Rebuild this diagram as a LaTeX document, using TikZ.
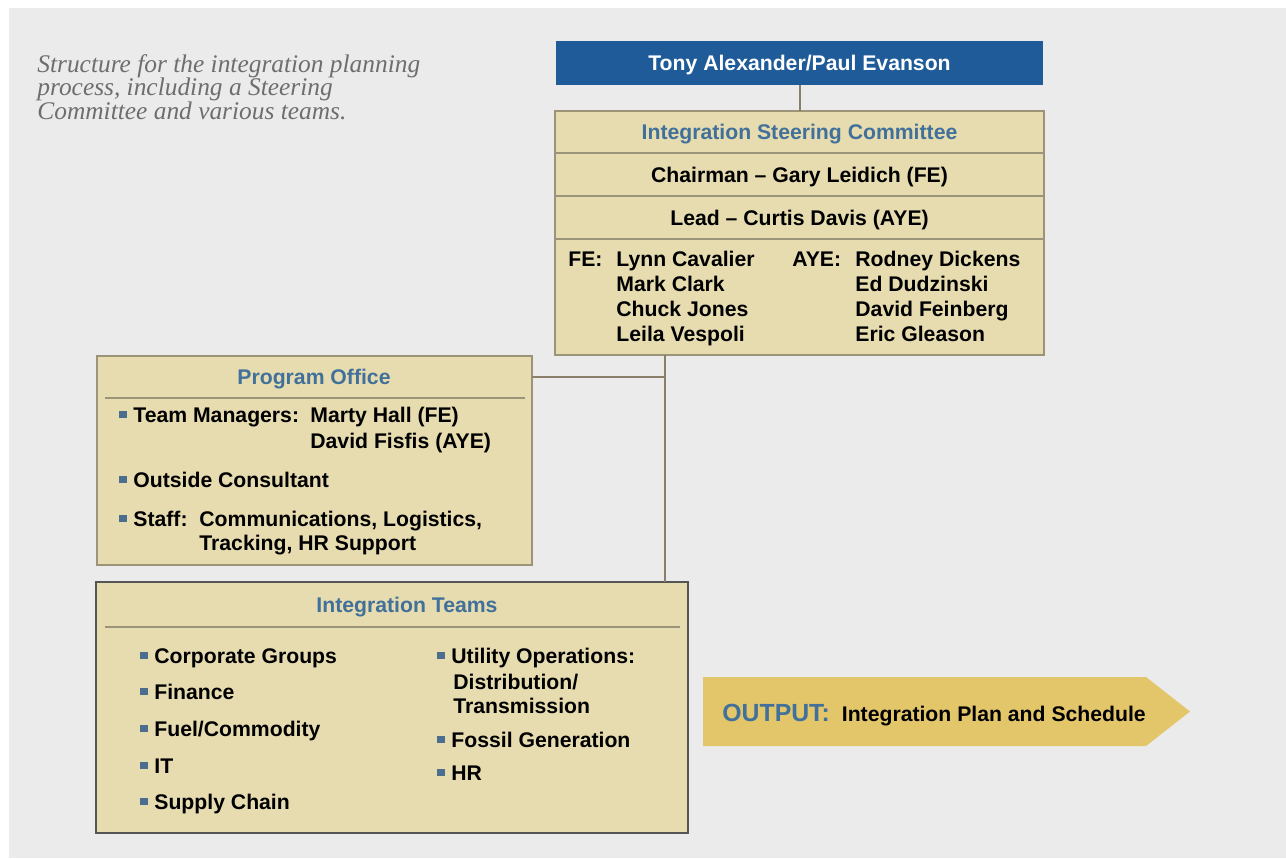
\documentclass[tikz,border=0pt]{standalone}
\usepackage{fontspec}
\setmainfont{Liberation Sans}
\newfontfamily\capserif{Liberation Serif}
\usetikzlibrary{fit}
\definecolor{bgc}{HTML}{EBEBEB}
\definecolor{tanc}{HTML}{E6DCB0}
\definecolor{boxline}{HTML}{9C9478}
\definecolor{bluec}{HTML}{1F5B98}
\definecolor{ttlc}{HTML}{41709A}
\definecolor{bulc}{HTML}{4B6E8E}
\definecolor{capc}{HTML}{6E6E6E}
\definecolor{arrc}{HTML}{E3C56A}
\definecolor{linec}{HTML}{8A806A}
\definecolor{darkline}{HTML}{555555}
\newcommand{\bul}{{\color{bulc}\rule[0.2em]{0.36em}{0.36em}}\hspace{0.3em}}
\begin{document}
\begin{tikzpicture}[x=0.5pt,y=-0.5pt,
  box/.style={draw=boxline, line width=0.8pt, fill=tanc, inner sep=0pt, outer sep=0pt},
  txt/.style={font=\fontsize{10.6}{12.5}\selectfont\bfseries, inner sep=0pt, text height=7.6pt, text depth=0pt},
  ttl/.style={txt, text=ttlc},
  itm/.style={txt, anchor=west},
  conn/.style={draw=linec, line width=1pt}]
\useasboundingbox (0,0) rectangle (1286,858);
\fill[white] (0,0) rectangle (1286,858);
\fill[bgc] (9,8) rectangle (1286,858);

% caption
\node[anchor=base west, inner sep=0pt, align=left, text=capc,
  font=\capserif\itshape\fontsize{12.7}{11.75}\selectfont] (cap) at (37,119)
  {Structure for the integration planning\\process, including a Steering\\Committee and various teams.};

% top box
\node[fit={(556,41)(1043,85)}, fill=bluec, inner sep=0pt, outer sep=0pt] (top) {};
\node[txt, text=white] (topt) at (top.center) {Tony Alexander/Paul Evanson};

% steering committee
\node[box, fit={(555,111)(1044,153)}] (sthead) {};
\node[ttl] (stheadt) at (sthead.center) {Integration Steering Committee};
\node[box, fit={(555,153)(1044,196)}] (stchair) {};
\node[txt] (stchairt) at (stchair.center) {Chairman -- Gary Leidich (FE)};
\node[box, fit={(555,196)(1044,239)}] (stlead) {};
\node[txt] (stleadt) at (stlead.center) {Lead -- Curtis Davis (AYE)};
\node[box, fit={(555,239)(1044,355)}] (stmem) {};
\node[itm] (fe) at (568,259) {FE:};
\node[itm] (fe1) at (616,259) {Lynn Cavalier};
\node[itm] (fe2) at (616,284) {Mark Clark};
\node[itm] (fe3) at (616,309) {Chuck Jones};
\node[itm] (fe4) at (616,334) {Leila Vespoli};
\node[itm] (aye) at (792,259) {AYE:};
\node[itm] (aye1) at (855,259) {Rodney Dickens};
\node[itm] (aye2) at (855,284) {Ed Dudzinski};
\node[itm] (aye3) at (855,309) {David Feinberg};
\node[itm] (aye4) at (855,334) {Eric Gleason};

% program office
\node[box, fit={(97,356)(532,565)}] (po) {};
\node[ttl] (pot) at (314,377) {Program Office};
\draw[boxline, line width=0.8pt] (105,398) -- (525,398);
\node[itm] (po1) at (119,415) {\bul Team Managers:};
\node[itm] (po1b) at (310,415) {Marty Hall (FE)};
\node[itm] (po1c) at (310,441) {David Fisfis (AYE)};
\node[itm] (po2) at (119,480) {\bul Outside Consultant};
\node[itm] (po3) at (119,519) {\bul Staff:};
\node[itm] (po3b) at (199,519) {Communications, Logistics,};
\node[itm] (po3c) at (199,543) {Tracking, HR Support};

% integration teams
\node[box, draw=darkline, line width=1.2pt, fit={(96,582)(688,833)}] (it) {};
\node[ttl] (itt) at (407,605) {Integration Teams};
\draw[boxline, line width=0.8pt] (105,627) -- (680,627);
\node[itm] (it1) at (140,656) {\bul Corporate Groups};
\node[itm] (it2) at (140,692) {\bul Finance};
\node[itm] (it3) at (140,729) {\bul Fuel/Commodity};
\node[itm] (it4) at (140,766) {\bul IT};
\node[itm] (it5) at (140,802) {\bul Supply Chain};
\node[itm] (it6) at (437,656) {\bul Utility Operations:};
\node[itm] (it6b) at (453,682) {Distribution/};
\node[itm] (it6c) at (453,706) {Transmission};
\node[itm] (it7) at (437,740) {\bul Fossil Generation};
\node[itm] (it8) at (437,773) {\bul HR};

% connectors
\coordinate (j) at (665,377);
\draw[conn] (top.south) -- (sthead.north);
\draw[conn] (stmem.south -| j) -- (it.north -| j);
\draw[conn] (po.east |- j) -- (j);

% output arrow
\fill[arrc] (703,677) -- (1146,677) -- (1190,711.5) -- (1146,746) -- (703,746) -- cycle;
\node[anchor=west, inner sep=0pt, text height=8.9pt, text depth=0pt] (out) at (722,713)
  {{\fontsize{12.4}{14}\selectfont\bfseries\color{ttlc}OUTPUT:}\hspace{0.6em}{\fontsize{10.6}{12}\selectfont\bfseries Integration Plan and Schedule}};
\end{tikzpicture}
\end{document}
